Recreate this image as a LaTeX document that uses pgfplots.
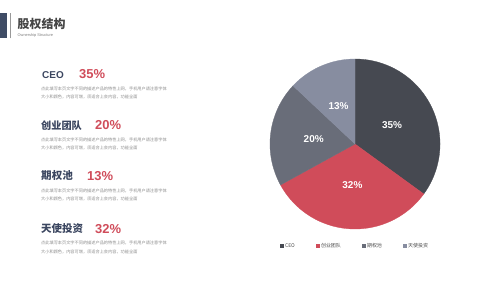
\documentclass[border=0pt]{standalone}
\usepackage{pgfplots}
\pgfplotsset{compat=1.18}
\usepackage{pgfplotstable}
\usepackage{fontspec}
\setmainfont{Liberation Sans}
\newfontfamily\cjk{Noto Sans CJK SC}
\definecolor{cA}{HTML}{464951}
\definecolor{cB}{HTML}{D04C5A}
\definecolor{cC}{HTML}{696D79}
\definecolor{cD}{HTML}{878DA0}
\definecolor{navy}{HTML}{3B4660}
\definecolor{redt}{HTML}{D04C5A}
\definecolor{desc}{HTML}{8E8E8E}
\definecolor{titlec}{HTML}{454545}
\definecolor{barc}{HTML}{3F4C65}

\pgfplotstableread{
name share
CEO 35
Team 32
Pool 20
Angel 13
}\piedata
\pgfplotstablegetelem{0}{share}\of\piedata \let\sA\pgfplotsretval
\pgfplotstablegetelem{1}{share}\of\piedata \let\sB\pgfplotsretval
\pgfplotstablegetelem{2}{share}\of\piedata \let\sC\pgfplotsretval
\pgfplotstablegetelem{3}{share}\of\piedata \let\sD\pgfplotsretval
\pgfmathsetmacro\aA{90}
\pgfmathsetmacro\aB{\aA-3.6*\sA}
\pgfmathsetmacro\aC{\aB-3.6*\sB}
\pgfmathsetmacro\aD{\aC-3.6*\sC}
\pgfmathsetmacro\aE{\aD-3.6*\sD}
\pgfmathsetmacro\mA{(\aA+\aB)/2}
\pgfmathsetmacro\mB{(\aB+\aC)/2}
\pgfmathsetmacro\mC{(\aC+\aD)/2}
\pgfmathsetmacro\mD{(\aD+\aE)/2}

\newcommand\slice[3]{%
  \addplot[fill=#3, draw=#3, line width=0.3bp, domain=#1:#2, samples=90, smooth]
    ({cos(x)},{sin(x)}) -- (axis cs:0,0) -- cycle;}

\newcommand\desc[2]{%
  \node[anchor=base west, inner sep=0pt, text=desc, font=\cjk\fontsize{4.2}{5}\selectfont] at (41bp,#1) {点此填写本页文字不同的描述产品的特性上网，手机用户请注意字体};
  \node[anchor=base west, inner sep=0pt, text=desc, font=\cjk\fontsize{4.2}{5}\selectfont] at (41bp,#2) {大小和颜色，内容可增，须适合上会内容，功能全面};}

\begin{document}
\begin{tikzpicture}[x=1bp,y=1bp]
\path[use as bounding box, fill=white] (0,0) rectangle (500,281);
% header
\fill[barc] (0,242.7) rectangle (7.3,268.3);
\draw[gray!80, line width=0.8bp] (10.5,242.7) -- (10.5,268.3);
\node[anchor=base west, inner sep=0pt, text=titlec, font=\cjk\bfseries\fontsize{12}{14}\selectfont] at (17.5,253) {股权结构};
\node[anchor=base west, inner sep=0pt, text=gray, font=\fontsize{3.9}{4.5}\selectfont] at (17.5,244.6) {Ownership Structure};

% left blocks
\node[anchor=base west, inner sep=0pt, text=navy, font=\bfseries\fontsize{10}{12}\selectfont] at (42,203) {CEO};
\node[anchor=base west, inner sep=0pt, text=redt, font=\bfseries\fontsize{13}{15}\selectfont] at (79,203) {35\%};
\desc{190.1}{182.1}

\node[anchor=base west, inner sep=0pt, text=navy, font=\cjk\bfseries\fontsize{10.2}{12}\selectfont] at (41,151.5) {创业团队};
\node[anchor=base west, inner sep=0pt, text=redt, font=\bfseries\fontsize{13}{15}\selectfont] at (95,151.2) {20\%};
\desc{139.4}{131.1}

\node[anchor=base west, inner sep=0pt, text=navy, font=\cjk\bfseries\fontsize{10.6}{12}\selectfont] at (41,101.5) {期权池};
\node[anchor=base west, inner sep=0pt, text=redt, font=\bfseries\fontsize{13}{15}\selectfont] at (87,100.5) {13\%};
\desc{88.7}{80.4}

\node[anchor=base west, inner sep=0pt, text=navy, font=\cjk\bfseries\fontsize{10.5}{12}\selectfont] at (41,48.5) {天使投资};
\node[anchor=base west, inner sep=0pt, text=redt, font=\bfseries\fontsize{13}{15}\selectfont] at (95,47.5) {32\%};
\desc{36.4}{27.4}

\begin{axis}[
  at={(355bp,137bp)}, anchor=center,
  scale only axis, width=170bp, height=170bp,
  xmin=-1, xmax=1, ymin=-1, ymax=1,
  hide axis, clip=false,
  legend columns=4,
  legend image code/.code={\fill[#1] (0bp,-1.4bp) rectangle (2.8bp,1.4bp);},
  legend style={draw=none, fill=none, at={(0.5,-0.1)}, anchor=center,
    font=\cjk\fontsize{5}{6}\selectfont, text=black!70,
    /tikz/every even column/.append style={column sep=19bp}},
]
\slice{\aB}{\aA}{cA}
\addlegendentry{CEO}
\slice{\aC}{\aB}{cB}
\addlegendentry{创业团队}
\slice{\aD}{\aC}{cC}
\addlegendentry{期权池}
\slice{\aE}{\aD}{cD}
\addlegendentry{天使投资}
\node[text=white, font=\bfseries\fontsize{10}{12}\selectfont] at (axis cs:{0.49*cos(\mA)},{0.49*sin(\mA)}) {35\%};
\node[text=white, font=\bfseries\fontsize{10}{12}\selectfont] at (axis cs:{0.49*cos(\mB)},{0.49*sin(\mB)}) {32\%};
\node[text=white, font=\bfseries\fontsize{10}{12}\selectfont] at (axis cs:{0.49*cos(\mC)},{0.49*sin(\mC)}) {20\%};
\node[text=white, font=\bfseries\fontsize{10}{12}\selectfont] at (axis cs:{0.49*cos(\mD)},{0.49*sin(\mD)}) {13\%};
\end{axis}
\end{tikzpicture}
\end{document}
